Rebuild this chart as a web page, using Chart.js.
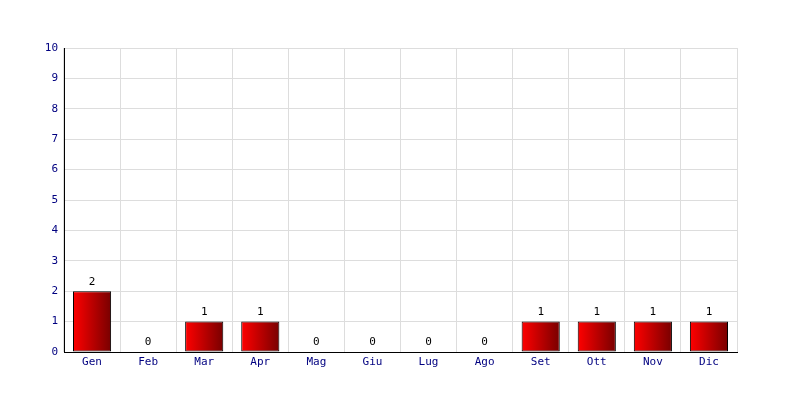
<!DOCTYPE html>
<html><head><meta charset="utf-8">
<script src="https://cdn.jsdelivr.net/npm/chart.js@4/dist/chart.umd.min.js"></script>
<style>html,body{margin:0;padding:0;background:#fff}#wrap{width:800px;height:400px}</style>
</head><body><div id="wrap"><canvas id="c" width="800" height="400"></canvas></div>
<script>
const categories = ['Gen','Feb','Mar','Apr','Mag','Giu','Lug','Ago','Set','Ott','Nov','Dic'];
const values = [2,0,1,1,0,0,0,0,1,1,1,1];
const yTicks = [0,1,2,3,4,5,6,7,8,9,10];

const FONT = "'DejaVu Sans Mono', monospace";
const BAR_PCT = 0.68;

const valueLabels = {
  id: 'valueLabels',
  afterDatasetsDraw(chart) {
    const c = chart.ctx;
    const meta = chart.getDatasetMeta(0);
    c.save();
    c.font = '11px ' + FONT;
    c.fillStyle = '#000';
    c.textAlign = 'center';
    c.textBaseline = 'bottom';
    meta.data.forEach((el, i) => {
      c.fillText(String(values[i]), el.x, el.y - 4);
    });
    c.restore();
  }
};

new Chart(document.getElementById('c'), {
  type: 'bar',
  data: {
    labels: categories,
    datasets: [{
      data: values,
      borderColor: '#000',
      borderWidth: 1,
      borderSkipped: false,
      barPercentage: BAR_PCT,
      categoryPercentage: 1,
      backgroundColor: (ctx) => {
        const chart = ctx.chart;
        const xs = chart.scales && chart.scales.x;
        if (!xs || !chart.chartArea || ctx.dataIndex === undefined) return '#c00000';
        const cx = xs.getPixelForValue(ctx.dataIndex);
        const w = (xs.width / categories.length) * BAR_PCT;
        const g = chart.ctx.createLinearGradient(cx - w / 2, 0, cx + w / 2, 0);
        g.addColorStop(0, '#ff0000');
        g.addColorStop(1, '#780000');
        return g;
      }
    }]
  },
  options: {
    responsive: false,
    animation: false,
    layout: { padding: { left: 0, right: 63, top: 48, bottom: 0 } },
    plugins: { legend: { display: false }, tooltip: { enabled: false } },
    scales: {
      x: {
        afterFit(s) { s.height = 48; },
        grid: { color: '#dddddd', drawTicks: false, offset: true },
        border: { color: '#000', width: 1 },
        ticks: { color: '#000080', font: { family: FONT, size: 11 }, padding: 4, maxRotation: 0 }
      },
      y: {
        min: 0, max: 10,
        afterFit(s) { s.width = 64; },
        afterBuildTicks(s) { s.ticks = yTicks.map(v => ({ value: v })); },
        grid: { color: '#dddddd', drawTicks: false },
        border: { color: '#000', width: 1 },
        ticks: { color: '#000080', font: { family: FONT, size: 11 }, padding: 6 }
      }
    }
  },
  plugins: [valueLabels]
});
</script></body></html>
